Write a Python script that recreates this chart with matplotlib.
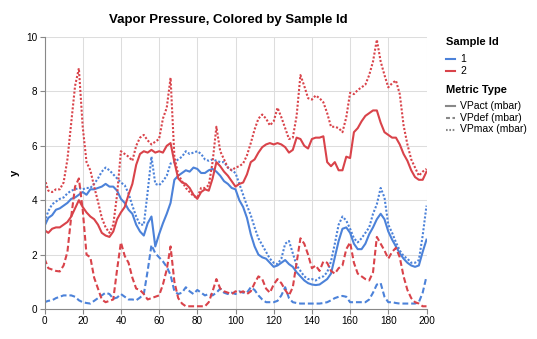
import matplotlib
matplotlib.use('Agg')
import matplotlib.pyplot as plt
from matplotlib.lines import Line2D
import numpy as np

plt.rcParams['font.family'] = ['Liberation Sans', 'DejaVu Sans']

W, H = 537, 339

# sample index (every second reading)
sample_idx = np.arange(0, 201, 2)

sample_ids = ['1', '2']
metric_types = ['VPact (mbar)', 'VPdef (mbar)', 'VPmax (mbar)']

vpact_1 = [3.05, 3.35, 3.45, 3.65, 3.7, 3.8, 3.9, 4.05, 4.1, 4.2,
           4.3, 4.2, 4.4, 4.4, 4.45, 4.5, 4.6, 4.5, 4.5, 4.35,
           4.05, 3.9, 3.65, 3.5, 3.1, 2.85, 2.7, 3.15, 3.4, 2.3,
           2.75, 3.15, 3.5, 3.9, 4.75, 4.9, 5.0, 5.1, 5.05, 5.2,
           5.15, 5.0, 5.0, 5.1, 5.15, 5.05, 4.9, 4.7, 4.6, 4.45,
           4.4, 4.0, 3.75, 3.35, 2.75, 2.3, 2.0, 1.9, 1.85, 1.7,
           1.55, 1.6, 1.7, 1.8, 1.65, 1.55, 1.35, 1.2, 1.05, 0.95,
           0.9, 0.88, 0.9, 1.0, 1.1, 1.3, 1.9, 2.5, 2.95, 3.0,
           2.8, 2.4, 2.2, 2.2, 2.4, 2.75, 3.0, 3.3, 3.5, 3.3,
           2.85, 2.55, 2.3, 2.05, 1.85, 1.7, 1.6, 1.55, 1.6, 2.1,
           2.55]

vpdef_1 = [0.25, 0.3, 0.32, 0.4, 0.45, 0.5, 0.5, 0.5, 0.45, 0.32,
           0.25, 0.22, 0.2, 0.3, 0.4, 0.5, 0.6, 0.55, 0.38, 0.42,
           0.55, 0.45, 0.35, 0.35, 0.32, 0.42, 0.55, 1.4, 2.35, 2.05,
           1.9, 1.75, 1.55, 1.25, 0.65, 0.55, 0.6, 0.8, 0.65, 0.55,
           0.7, 0.6, 0.5, 0.55, 0.5, 0.6, 0.75, 0.6, 0.55, 0.6,
           0.55, 0.65, 0.6, 0.6, 0.8, 0.7, 0.5, 0.35, 0.25, 0.25,
           0.25, 0.3, 0.5, 0.8, 0.4, 0.25, 0.22, 0.2, 0.2, 0.2,
           0.2, 0.2, 0.2, 0.22, 0.25, 0.32, 0.4, 0.45, 0.48, 0.45,
           0.25, 0.25, 0.25, 0.25, 0.25, 0.35, 0.6, 0.9, 0.95, 0.45,
           0.25, 0.25, 0.22, 0.2, 0.2, 0.2, 0.2, 0.2, 0.25, 0.6,
           1.2]

vpmax_1 = [3.2, 3.6, 3.85, 3.95, 4.05, 4.1, 4.25, 4.35, 4.4, 4.45,
           4.4, 4.45, 4.45, 4.6, 4.8, 5.05, 5.2, 5.1, 4.95, 4.8,
           4.65, 4.55, 4.25, 3.8, 3.4, 3.1, 3.1, 4.3, 5.6, 4.6,
           4.55, 4.7, 4.9, 5.35, 5.4, 5.5, 5.6, 5.8, 5.7, 5.75,
           5.8, 5.7, 5.5, 5.45, 5.5, 5.45, 5.4, 5.4, 5.2, 5.1,
           5.0, 4.6, 4.2, 3.8, 3.45, 3.0, 2.6, 2.35, 2.1, 1.85,
           1.7, 1.65, 1.85, 2.4, 2.5, 2.05, 1.6, 1.4, 1.2, 1.1,
           1.1, 1.05, 1.15, 1.2, 1.35, 1.75, 2.4, 3.1, 3.4, 3.25,
           2.95, 2.6, 2.45, 2.6, 2.8, 3.0, 3.5, 3.85, 4.45, 4.1,
           3.1, 2.8, 2.45, 2.15, 1.95, 1.85, 1.7, 1.7, 1.8, 2.7,
           3.8]

vpact_2 = [2.9, 2.8, 2.95, 3.0, 3.0, 3.1, 3.2, 3.4, 3.7, 4.0,
           3.75, 3.55, 3.4, 3.3, 3.1, 2.8, 2.7, 2.65, 2.85, 3.3,
           3.55, 3.75, 4.2, 4.6, 5.3, 5.7, 5.8, 5.75, 5.85, 5.75,
           5.8, 5.75, 6.0, 6.1, 5.4, 4.8, 4.65, 4.6, 4.45, 4.2,
           4.05, 4.3, 4.4, 4.35, 4.8, 5.4, 5.25, 5.05, 4.9, 4.7,
           4.5, 4.6, 4.65, 4.95, 5.4, 5.5, 5.75, 5.95, 6.05, 6.1,
           6.05, 6.1, 6.05, 5.95, 5.75, 5.85, 6.3, 6.25, 6.0, 5.9,
           6.25, 6.3, 6.3, 6.35, 5.4, 5.25, 5.4, 5.1, 5.1, 5.6,
           5.55, 6.5, 6.65, 6.9, 7.1, 7.2, 7.3, 7.3, 6.85, 6.5,
           6.4, 6.3, 6.3, 6.05, 5.7, 5.45, 5.1, 4.85, 4.75, 4.75,
           5.05]

vpdef_2 = [1.85, 1.5, 1.45, 1.4, 1.38, 1.6, 2.1, 3.4, 4.5, 4.8,
           3.65, 2.0, 1.9, 1.15, 0.75, 0.35, 0.25, 0.3, 0.35, 1.45,
           2.45, 1.95, 1.7, 1.15, 0.75, 0.7, 0.55, 0.35, 0.4, 0.45,
           0.5, 0.9, 1.45, 2.3, 1.0, 0.4, 0.2, 0.1, 0.1, 0.1,
           0.1, 0.1, 0.1, 0.25, 0.65, 1.1, 0.75, 0.65, 0.6, 0.55,
           0.65, 0.6, 0.65, 0.55, 0.65, 0.95, 1.2, 1.1, 0.75, 0.6,
           0.9, 1.1, 0.95, 0.7, 0.5, 0.8, 1.7, 2.6, 2.4, 2.0,
           1.5, 1.6, 1.4, 1.75, 1.7, 1.4, 1.3, 1.5, 1.6, 2.2,
           2.45, 1.7, 1.3, 1.2, 1.1, 1.05, 1.35, 2.65, 2.4, 2.15,
           1.85, 2.1, 2.25, 1.9, 1.2, 0.7, 0.4, 0.25, 0.2, 0.1,
           0.1]

vpmax_2 = [4.8, 4.35, 4.3, 4.4, 4.4, 4.65, 5.5, 6.85, 8.2, 8.85,
           6.7, 5.4, 5.1, 4.5, 3.95, 3.35, 3.0, 2.8, 3.1, 4.2,
           5.8, 5.7, 5.6, 5.45, 6.0, 6.3, 6.4, 6.2, 6.05, 6.15,
           6.25, 7.0, 7.4, 8.5, 5.6, 4.95, 4.7, 4.45, 4.3, 4.15,
           4.1, 4.45, 4.45, 4.55, 5.4, 6.7, 5.8, 5.5, 5.2, 5.1,
           5.2, 5.25, 5.35, 5.65, 6.1, 6.6, 7.0, 7.15, 7.0, 6.75,
           6.9, 7.4, 7.05, 6.65, 6.25, 6.3, 7.1, 8.6, 8.2, 7.75,
           7.7, 7.85, 7.75, 7.6, 7.2, 6.7, 6.7, 6.65, 6.5, 7.05,
           7.95, 7.9, 8.05, 8.15, 8.25, 8.6, 9.1, 9.9, 9.1, 8.6,
           8.15, 8.3, 8.4, 7.9, 6.75, 6.05, 5.5, 5.2, 4.9, 5.05,
           5.15]

colors = {'1': '#4c82d9', '2': '#d9434a'}
lw = 1.5
styles = {
    'VPact (mbar)': '-',
    'VPdef (mbar)': (0, (2.8, 1.4)),
    'VPmax (mbar)': (0, (1.0, 0.9)),
}
# shorter symbols in the legend so the pattern shows
legend_styles = {
    'VPact (mbar)': '-',
    'VPdef (mbar)': (0, (1.9, 1.2)),
    'VPmax (mbar)': (0, (0.8, 0.8)),
}

series = {
    ('1', 'VPact (mbar)'): vpact_1,
    ('1', 'VPdef (mbar)'): vpdef_1,
    ('1', 'VPmax (mbar)'): vpmax_1,
    ('2', 'VPact (mbar)'): vpact_2,
    ('2', 'VPdef (mbar)'): vpdef_2,
    ('2', 'VPmax (mbar)'): vpmax_2,
}


def fx(px):
    return px / W


def fy(py):
    return 1 - py / H


fig = plt.figure(figsize=(W / 100, H / 100), dpi=100)
ax = fig.add_axes([fx(44.5), fy(309), fx(426.5) - fx(44.5), fy(37) - fy(309)])

for (sid, metric), vals in series.items():
    ax.plot(sample_idx, vals, color=colors[sid], lw=lw, linestyle=styles[metric])

ax.set_xlim(0, 200)
ax.set_ylim(0, 10)
ax.set_xticks(np.arange(0, 201, 20))
ax.set_yticks(np.arange(0, 11, 2))
ax.grid(True, color='#dddddd', lw=0.75)
ax.set_axisbelow(True)
for s in ['top', 'right']:
    ax.spines[s].set_visible(False)
for s in ['left', 'bottom']:
    ax.spines[s].set_color('#888888')
    ax.spines[s].set_linewidth(0.8)
ax.tick_params(length=3.6, width=0.8, color='#888888', labelsize=7.2, pad=1.5)

fig.text(fx(15), fy(173), 'y', rotation=90, ha='center', va='center',
         fontsize=8, fontweight='bold')
fig.text(fx(228), fy(20), 'Vapor Pressure, Colored by Sample Id',
         ha='center', va='center', fontsize=9.5, fontweight='bold')

# legend, drawn by hand in Vega style
lx0, lx1, tx = 446, 455, 460
fig.text(fx(lx0), fy(42), 'Sample Id', fontsize=8, fontweight='bold', va='center')
for i, sid in enumerate(sample_ids):
    yy = 58.5 + i * 12
    fig.add_artist(Line2D([fx(lx0), fx(lx1)], [fy(yy), fy(yy)], color=colors[sid], lw=1.5))
    fig.text(fx(tx), fy(yy), sid, fontsize=7.5, va='center')

fig.text(fx(lx0), fy(90), 'Metric Type', fontsize=8, fontweight='bold', va='center')
for i, metric in enumerate(metric_types):
    yy = 106.5 + i * 11.5
    fig.add_artist(Line2D([fx(lx0), fx(lx1)], [fy(yy), fy(yy)], color='#888888', lw=1.5,
                          linestyle=legend_styles[metric]))
    fig.text(fx(tx), fy(yy), metric, fontsize=7.5, va='center')

fig.savefig('out.png', dpi=100)
